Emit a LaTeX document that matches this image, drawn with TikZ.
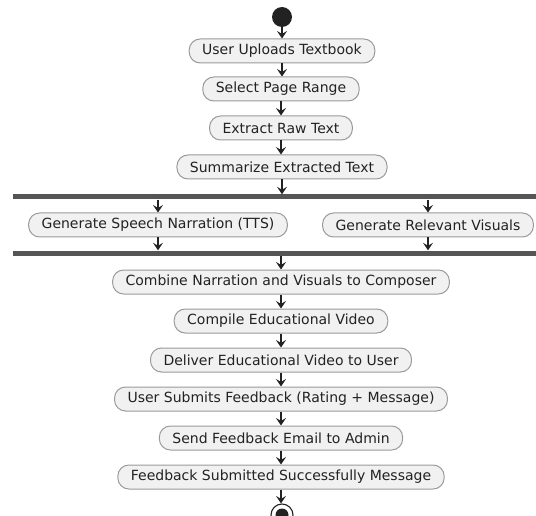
\documentclass[tikz,border=0pt]{standalone}
\usepackage{fontspec}
\setmainfont{DejaVu Sans}
\usepackage{xcolor}
\usepackage{tikz}
\usetikzlibrary{arrows.meta,positioning,calc}
\definecolor{actfill}{HTML}{F1F1F1}
\definecolor{actline}{HTML}{9A9A9A}
\definecolor{actink}{HTML}{222222}
\definecolor{barcol}{HTML}{555555}

\begin{document}
\begin{tikzpicture}[x=1pt, y=-1pt,
    every node/.style={font=\fontsize{14}{16}\selectfont, text=actink},
    act/.style={draw=actline, fill=actfill, rounded corners=11pt, line width=1pt,
                minimum height=24pt, inner xsep=13pt, inner ysep=0pt},
    forkbar/.style={fill=barcol, inner sep=0pt, minimum height=5pt, minimum width=523pt},
    flow/.style={-{Stealth[length=7.5pt, width=10pt, inset=3pt]}, line width=1.1pt, draw=actink}]
        \useasboundingbox (0,0) rectangle (536,516);
        \node[circle, fill=actink, minimum size=20pt, inner sep=0pt] (start) at (282,17) {};
        \node[act] (upload) at (282,51) {User Uploads Textbook};
        \node[act] (range) at (281,89) {Select Page Range};
        \node[act] (extract) at (281,128) {Extract Raw Text};
        \node[act] (summ) at (282,167) {Summarize Extracted Text};
        \node[forkbar] (fork) at (274.5,197) {};
        \node[act] (tts) at (158,225) {Generate Speech Narration (TTS)};
        \node[act] (visuals) at (428,225) {Generate Relevant Visuals};
        \node[forkbar] (join) at (274.5,253) {};
        \node[act] (combine) at (281,282) {Combine Narration and Visuals to Composer};
        \node[act] (compile) at (281,321) {Compile Educational Video};
        \node[act] (deliver) at (281,360) {Deliver Educational Video to User};
        \node[act] (submit) at (281,399) {User Submits Feedback (Rating + Message)};
        \node[act] (email) at (281,438) {Send Feedback Email to Admin};
        \node[act] (success) at (281,477) {Feedback Submitted Successfully Message};
        \node[circle, draw=actink, line width=1.1pt, fill=white, minimum size=22pt, inner sep=0pt] (stop) at (282,515) {};
        \node[circle, fill=actink, minimum size=13pt, inner sep=0pt] (stopdot) at (stop) {};
        \draw[flow] (start) -- (upload);
        \draw[flow] (upload) -- (upload |- range.north);
        \draw[flow] (range) -- (extract);
        \draw[flow] (extract) -- (extract |- summ.north);
        \draw[flow] (summ) -- (summ |- fork.north);
        \draw[flow] (fork.south -| tts) -- (tts);
        \draw[flow] (fork.south -| visuals) -- (visuals);
        \draw[flow] (tts) -- (tts |- join.north);
        \draw[flow] (visuals) -- (visuals |- join.north);
        \draw[flow] (join.south -| combine) -- (combine);
        \draw[flow] (combine) -- (compile);
        \draw[flow] (compile) -- (deliver);
        \draw[flow] (deliver) -- (submit);
        \draw[flow] (submit) -- (email);
        \draw[flow] (email) -- (success);
        \draw[flow] (success) -- (success |- stop.north);
    \end{tikzpicture}
\end{document}
